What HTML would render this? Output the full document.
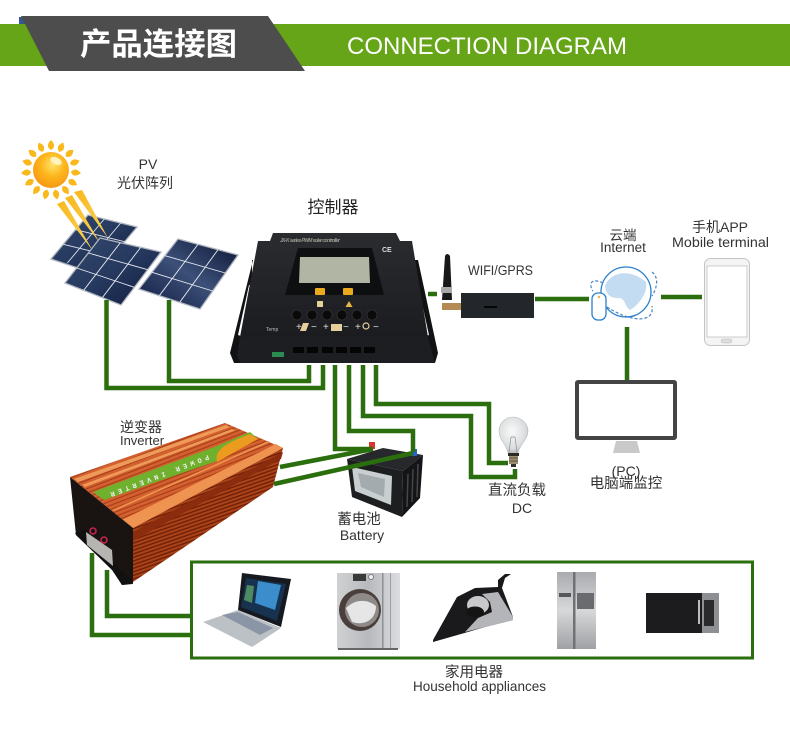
<!DOCTYPE html>
<html lang="zh"><head><meta charset="utf-8"><title>产品连接图</title>
<style>
html,body{margin:0;padding:0;background:#fff}
svg{display:block;font-family:"Liberation Sans","Noto Sans CJK SC",sans-serif}
</style></head><body>
<svg xmlns="http://www.w3.org/2000/svg" width="790" height="738" viewBox="0 0 790 738">
<defs>
<radialGradient id="sun" cx=".55" cy=".35" r=".75"><stop offset="0" stop-color="#ffe36a"/><stop offset=".45" stop-color="#fdb51c"/><stop offset="1" stop-color="#f58f10"/></radialGradient>
<linearGradient id="beam" x1="0" y1="0" x2="1" y2="1"><stop offset="0" stop-color="#f9b81c"/><stop offset="1" stop-color="#f6d25a"/></linearGradient>
<linearGradient id="pa" x1="0" y1="0" x2="1" y2="1"><stop offset="0" stop-color="#34496f"/><stop offset=".5" stop-color="#26395f"/><stop offset="1" stop-color="#0f1a3c"/></linearGradient>
<linearGradient id="pb" x1="1" y1="0" x2="0" y2="1"><stop offset="0" stop-color="#0b1534"/><stop offset=".5" stop-color="#3c5078"/><stop offset="1" stop-color="#101b40"/></linearGradient>
<linearGradient id="ctl" x1="0" y1="0" x2="0" y2="1"><stop offset="0" stop-color="#2b2c30"/><stop offset="1" stop-color="#1b1c1f"/></linearGradient>
<pattern id="top" width="10" height="4" patternUnits="userSpaceOnUse" patternTransform="rotate(-21)"><rect width="10" height="4" fill="#d4602f"/><rect y="2.8" width="10" height="1.2" fill="#a83f1a"/></pattern>
<pattern id="side" width="10" height="3.4" patternUnits="userSpaceOnUse" patternTransform="rotate(-19)"><rect width="10" height="3.4" fill="#ab4318"/><rect y="2" width="10" height="1.4" fill="#6f2008"/></pattern>
<linearGradient id="steel" x1="0" y1="0" x2="1" y2="0"><stop offset="0" stop-color="#cfd1d3"/><stop offset=".5" stop-color="#b7b9bc"/><stop offset="1" stop-color="#dcdde0"/></linearGradient>
<linearGradient id="fr" x1="0" y1="0" x2="0" y2="1"><stop offset="0" stop-color="#a9abae"/><stop offset=".5" stop-color="#d7d8da"/><stop offset="1" stop-color="#9fa1a4"/></linearGradient>
<radialGradient id="bulb" cx=".45" cy=".4" r=".6"><stop offset="0" stop-color="#fafafa"/><stop offset=".8" stop-color="#d9dcdd"/><stop offset="1" stop-color="#b5b9bb"/></radialGradient>
</defs>
<rect width="790" height="738" fill="#fff"/>

<!-- banner -->
<rect x="0" y="24" width="790" height="42" fill="#65a517"/>
<polygon points="19,17 25,17 25,24 19,24" fill="#35588f"/>
<polygon points="21,16 268,16 305,71 49,71" fill="#4d4d4d"/>
<text x="80" y="55" font-size="31" font-weight="700" fill="#fff" textLength="157" lengthAdjust="spacingAndGlyphs">产品连接图</text>
<text x="347" y="54" font-size="24" fill="#fff" textLength="280" lengthAdjust="spacingAndGlyphs">CONNECTION DIAGRAM</text>

<!-- sun -->
<g transform="translate(51,170)" fill="#f9b81c">
<path d="M0-20C-5-23-3-27 0-30C3-27 5-23 0-20Z"/>
<path transform="rotate(24)" d="M0-20C-5-23-3-27 0-30C3-27 5-23 0-20Z"/>
<path transform="rotate(48)" d="M0-20C-5-23-3-27 0-30C3-27 5-23 0-20Z"/>
<path transform="rotate(72)" d="M0-20C-5-23-3-27 0-30C3-27 5-23 0-20Z"/>
<path transform="rotate(96)" d="M0-20C-5-23-3-27 0-30C3-27 5-23 0-20Z"/>
<path transform="rotate(120)" d="M0-20C-5-23-3-27 0-30C3-27 5-23 0-20Z"/>
<path transform="rotate(144)" d="M0-20C-5-23-3-27 0-30C3-27 5-23 0-20Z"/>
<path transform="rotate(168)" d="M0-20C-5-23-3-27 0-30C3-27 5-23 0-20Z"/>
<path transform="rotate(192)" d="M0-20C-5-23-3-27 0-30C3-27 5-23 0-20Z"/>
<path transform="rotate(216)" d="M0-20C-5-23-3-27 0-30C3-27 5-23 0-20Z"/>
<path transform="rotate(240)" d="M0-20C-5-23-3-27 0-30C3-27 5-23 0-20Z"/>
<path transform="rotate(264)" d="M0-20C-5-23-3-27 0-30C3-27 5-23 0-20Z"/>
<path transform="rotate(288)" d="M0-20C-5-23-3-27 0-30C3-27 5-23 0-20Z"/>
<path transform="rotate(312)" d="M0-20C-5-23-3-27 0-30C3-27 5-23 0-20Z"/>
<path transform="rotate(336)" d="M0-20C-5-23-3-27 0-30C3-27 5-23 0-20Z"/>
<circle r="18" fill="url(#sun)"/>
<ellipse cx="5" cy="-9" rx="6" ry="3.5" fill="#fff3c0" transform="rotate(25 5 -9)"/>
</g>

<!-- panels -->
<g stroke="#dfe3ea" stroke-width=".9">
<polygon points="88,215 137,227 100,271 75,267 51,259" fill="url(#pa)" stroke="#aeb4bf" stroke-width="1.3"/>
<path d="M104.300,219 67.300,263M120.700,223 83.700,267M75.700,229.700 124.700,241.700M63.300,244.300 112.300,256.300" fill="none"/>
</g>
<g fill="url(#beam)">
<polygon points="74,192 82,190 108,238"/>
<polygon points="65,198 72,195 100,243"/>
<polygon points="57,204 64,201 93,251"/>
</g>
<g stroke="#e6e9ef" stroke-width=".9">
<polygon points="100,238 161,252 121,305 65,283" fill="url(#pa)" stroke="#aeb4bf" stroke-width="1.3"/>
<path d="M120.300,242.700 83.700,290.300M140.700,247.300 102.300,297.700M88.300,253 147.700,269.700M76.700,268 134.300,287.300" fill="none"/>
<polygon points="178,239 238,255 200,309 139,289" fill="url(#pb)" stroke="#aeb4bf" stroke-width="1.3"/>
<path d="M198,244.300 159.300,295.700M218,249.700 179.700,302.300M165,255.700 225.300,273M152,272.300 212.700,291" fill="none"/>
</g>

<!-- bulb -->
<path d="M513,417C505,417 499,424 499,431C499,440 506,443 508,453H518C520,443 528,440 528,431C528,424 521,417 513,417Z" fill="url(#bulb)" stroke="#b8bcbe" stroke-width=".6"/>
<path d="M509,452 511,437M517,452 515,437M511,437 515,437" stroke="#8d9090" stroke-width=".7" fill="none"/>
<rect x="508" y="453" width="11" height="3" fill="#2c2a24"/>
<rect x="509" y="456" width="9" height="8" fill="#9a8f72"/>
<path d="M509,458H518M509,461H518" stroke="#5e5643"/>
<rect x="511" y="464" width="5" height="3" fill="#33302a"/>

<!-- battery -->
<polygon points="347,459 383,448 423,455 403,471" fill="#26282b"/>
<polygon points="347,459 403,471 402,517 352,497" fill="#1d1e20"/>
<polygon points="423,455 420,498 402,517 403,471" fill="#141517"/>
<polygon points="352,467 392,476 391,505 355,491" fill="#c9ced1"/>
<polygon points="358,473 385,479 384,497 361,487" fill="#a4abaf"/>
<g stroke="#45464a" stroke-width="1.5"><path d="M408,474 407,507M413,469 412,502M418,464 417,497"/></g>
<rect x="369" y="442" width="6" height="7" fill="#d8372d"/>
<rect x="411" y="449" width="6" height="7" fill="#2a62c4"/>

<!-- inverter -->
<polygon points="133,528 283,448 273,487 133,582" fill="url(#side)"/>
<polygon points="133,532 283,452 281,459 133,541" fill="#8a2c0d"/>
<polygon points="70,477 225,423 283,448 133,528" fill="url(#top)"/>
<polygon points="74,479 226,425 230,427 78,482" fill="#ee9a58"/>
<polygon points="82,485 232,429 235,430.500 85,487" fill="#ee9a58"/>
<polygon points="122,520 276,444 283,448 133,528" fill="#ef9350"/>
<polygon points="112,510 268,441 270,442 114,511" fill="#ee9350"/>
<polygon points="93,492 217,446 250,432 258,439 217,461 104,500" fill="#6fb02c"/>
<path d="M217,462C214,450 226,445 235,440L250,434 258,439Z" fill="#eb9b1d"/>
<text font-size="7" font-weight="700" fill="#eee" transform="translate(208,455) rotate(159)" textLength="105" lengthAdjust="spacing" font-family="Liberation Mono">POWER INVERTER</text>
<polygon points="70,477 133,528 133,583 122,585 113,570 76,535" fill="#191412"/>
<polygon points="75,533 87,529 115,565 132,580 133,584 122,585 112,570 77,536" fill="#111"/>
<polygon points="86,532 112,550 113,566 87,545" fill="#b6b5b2"/>
<circle cx="93" cy="531" r="3" fill="none" stroke="#c2254c" stroke-width="1.6"/>
<circle cx="104" cy="540" r="3" fill="none" stroke="#c2254c" stroke-width="1.6"/>

<!-- controller -->
<path d="M253,260 230,353 234,363H252V260ZM415,260V363H435L438,353 418,260Z" fill="#111214"/>
<polygon points="249,285 238,335 241,336 252,285" fill="#fff"/>
<polygon points="418,285 429,335 426,336 415,285" fill="#fff"/>
<polygon points="258,241 270,241 273,233 396,233 400,241 412,241 428,337 240,337" fill="url(#ctl)"/>
<polygon points="240,337 428,337 435,363 240,363 237,355" fill="#1d1e22"/>
<polygon points="298,248 372,248 384,295 285,295" fill="#0e0f10"/>
<polygon points="300,257 369,257 370,283 299,283" fill="#b1b5a4"/>
<rect x="315" y="288" width="10" height="7" rx="1" fill="#eba91e"/>
<rect x="343" y="288" width="10" height="7" rx="1" fill="#eba91e"/>
<rect x="317" y="301" width="6" height="6" fill="#e6cf9b"/>
<polygon points="349,301 352.500,307 345.500,307" fill="#e5b64a"/>
<g fill="#0a0a0a" stroke="#3a3a3a" stroke-width=".6">
<circle cx="297" cy="315" r="5"/><circle cx="312" cy="315" r="5"/><circle cx="327" cy="315" r="5"/><circle cx="342" cy="315" r="5"/><circle cx="357" cy="315" r="5"/><circle cx="372" cy="315" r="5"/>
</g>
<text x="296" y="330" font-size="10" fill="#ddd">+</text>
<polygon points="303,323 309,323 306,331 300,331" fill="#e6cf9b"/>
<text x="311" y="330" font-size="10" fill="#ddd">−</text>
<text x="323" y="330" font-size="10" fill="#ddd">+</text>
<rect x="331" y="324" width="11" height="7" fill="#e6cf9b"/>
<text x="343" y="330" font-size="10" fill="#ddd">−</text>
<text x="355" y="330" font-size="10" fill="#ddd">+</text>
<circle cx="366" cy="326" r="3" fill="none" stroke="#e6cf9b" stroke-width="1.2"/>
<text x="373" y="330" font-size="10" fill="#ddd">−</text>
<text x="266" y="331" font-size="5" fill="#bbb">Temp</text>
<text x="280" y="242" font-size="5" font-style="italic" font-weight="700" fill="#9a9a90" textLength="60">JX-K series PWM solar controller</text>
<text x="382" y="252" font-size="7" font-weight="700" fill="#ddd">CE</text>
<g fill="#050506"><rect x="293" y="347" width="11" height="6"/><rect x="307" y="347" width="11" height="6"/><rect x="322" y="347" width="11" height="6"/><rect x="336" y="347" width="11" height="6"/><rect x="350" y="347" width="11" height="6"/><rect x="364" y="347" width="11" height="6"/></g>
<rect x="272" y="352" width="12" height="5" fill="#2c8b52"/>

<!-- wifi module -->
<path d="M428,294H437" stroke="#2b6e0d" stroke-width="4.500"/>
<path d="M442,300 445,256Q447,252 450,256L452,300Z" fill="#17181a"/>
<rect x="441" y="287" width="11" height="6" fill="#a8a8a8"/>
<rect x="442" y="303" width="20" height="7" fill="#b58a52"/>
<rect x="461" y="293" width="73" height="25" fill="#23262a"/>
<rect x="484" y="306" width="13" height="2" fill="#050505"/>

<!-- globe -->
<circle cx="626" cy="292" r="25" fill="#fff" stroke="#2b80cc" stroke-width="1.300"/>
<path d="M605,286C610,272 630,268 646,282C648,292 640,304 630,310C624,306 626,298 618,298C612,298 606,296 605,286Z" fill="#c3dcf1"/>
<path d="M603,283C588,276 590,288 593,291M652,272C660,278 656,290 652,296M607,307C630,322 655,324 652,306" fill="none" stroke="#4a84c2" stroke-width="1.200" stroke-dasharray="3 2"/>
<rect x="592" y="293" width="14" height="27" rx="6" fill="#fff" stroke="#2b80cc" stroke-width="1.300"/>
<circle cx="599" cy="297" r="1.200" fill="#f0b445"/>

<!-- phone -->
<rect x="704.500" y="258.500" width="45" height="87" rx="6" fill="#f4f4f4" stroke="#c4c4c4"/>
<rect x="707" y="266" width="40" height="71" fill="#fff" stroke="#b9b9b9" stroke-width=".7"/>
<rect x="721" y="339" width="11" height="4" rx="2" fill="#ddd" stroke="#bbb" stroke-width=".5"/>

<!-- monitor -->
<polygon points="616,441 637,441 640,453 613,453" fill="#c9c9c9"/>
<rect x="577" y="382" width="98" height="56" fill="#fff" stroke="#444" stroke-width="4" rx="1"/>

<!-- wires -->
<g fill="none" stroke="#2b6e0d" stroke-width="4.500">
<path d="M169,300V381H309V365"/>
<path d="M106.500,300V388H323V365"/>
<path d="M335,365V449H372"/>
<path d="M349,365V431H413V452"/>
<path d="M363,365V416H471V477H515V469"/>
<path d="M376,365V404H489V463H508"/>
<path d="M280,467 373,449"/>
<path d="M274,484 413,453"/>
<path d="M535,299H589"/>
<path d="M661,297H702"/>
<path d="M627,327V380"/>
<path d="M92,553V635H190"/>
<path d="M107,570V616H190"/>
</g>
<rect x="191.500" y="562" width="561" height="96" fill="none" stroke="#2b6e0d" stroke-width="3"/>

<!-- laptop -->
<polygon points="238,610 281,628 252,647 203,622" fill="#bcc1c6"/>
<polygon points="238,612 273,628 260,635 222,615" fill="#8a96a6"/>
<polygon points="242,573 291,579 281,627 238,610" fill="#16191f"/>
<polygon points="246,578 286,584 277,621 241,607" fill="#16324e"/>
<polygon points="258,581 281,585 275,610 255,603" fill="#3b8ecb"/>
<polygon points="247,585 254,586 252,603 244,600" fill="#4e8a64"/>
<!-- washer -->
<rect x="337" y="573" width="63" height="76" fill="url(#steel)"/>
<rect x="382" y="573" width="1.500" height="76" fill="#8d8f92"/>
<rect x="390" y="573" width="1" height="76" fill="#9b9da0"/>
<rect x="338" y="648" width="60" height="2" fill="#666"/>
<rect x="353" y="574" width="13" height="7" fill="#3a3a3a"/>
<circle cx="371" cy="577" r="2.500" fill="#eee" stroke="#666" stroke-width=".7"/>
<circle cx="360" cy="610" r="21" fill="#4a3f3c"/>
<circle cx="362" cy="610" r="17" fill="#8e8a88"/>
<path d="M346,608C354,600 366,598 376,606C376,620 364,626 352,622Z" fill="#e6e6e6"/>
<!-- iron -->
<path d="M433,640 457,597 475,588 498,587 498,580 505,574 511,574 505,578 502,588 513,617 513,620 485,627 468,632 433,642Z" fill="#1a1a1c"/>
<path d="M482,594 498,592 513,617 513,620 485,627 465,632 478,618 492,612 490,602Z" fill="#b4b5b8"/>
<ellipse cx="478" cy="605" rx="11" ry="9" fill="#c9c9cb"/>
<ellipse cx="475" cy="612" rx="9" ry="5.500" fill="#141414"/>
<!-- fridge -->
<rect x="557" y="572" width="39" height="77" fill="url(#fr)"/>
<rect x="573" y="572" width="2.500" height="77" fill="#6f7174"/>
<rect x="559" y="593" width="12" height="4" fill="#55575a"/>
<rect x="577" y="593" width="17" height="16" fill="#6a6b6e"/>
<!-- microwave -->
<rect x="646" y="593" width="73" height="40" fill="#1c1c1e"/>
<rect x="702" y="593" width="17" height="40" fill="#8d8f92"/>
<rect x="704" y="600" width="10" height="26" fill="#2a2a2c"/>
<rect x="698" y="600" width="2" height="24" fill="#bdbdbd"/>

<!-- labels -->
<g fill="#333" text-anchor="middle" font-size="14">
<text x="148" y="169">PV</text>
<text x="145" y="188" font-size="14">光伏阵列</text>
<text x="333" y="213" font-size="17" fill="#222">控制器</text>
<text x="500.500" y="275" font-size="14" textLength="65" lengthAdjust="spacingAndGlyphs">WIFI/GPRS</text>
<text x="623" y="240" font-size="13.500">云端</text>
<text x="623" y="252" font-size="13.500">Internet</text>
<text x="720" y="232" font-size="14">手机APP</text>
<text x="720.500" y="247" font-size="14" textLength="97" lengthAdjust="spacingAndGlyphs">Mobile terminal</text>
<text x="626" y="476" font-size="14">(PC)</text>
<text x="626" y="488" font-size="14.500">电脑端监控</text>
<text x="141" y="432" font-size="14">逆变器</text>
<text x="142" y="445" font-size="13">Inverter</text>
<text x="359" y="524" font-size="14.500">蓄电池</text>
<text x="362" y="540" font-size="14">Battery</text>
<text x="517" y="495" font-size="14.500">直流负载</text>
<text x="522" y="513" font-size="14">DC</text>
<text x="474" y="677" font-size="14.500">家用电器</text>
<text x="479.500" y="691" font-size="14" textLength="133" lengthAdjust="spacingAndGlyphs">Household appliances</text>
</g>
</svg>
</body></html>
